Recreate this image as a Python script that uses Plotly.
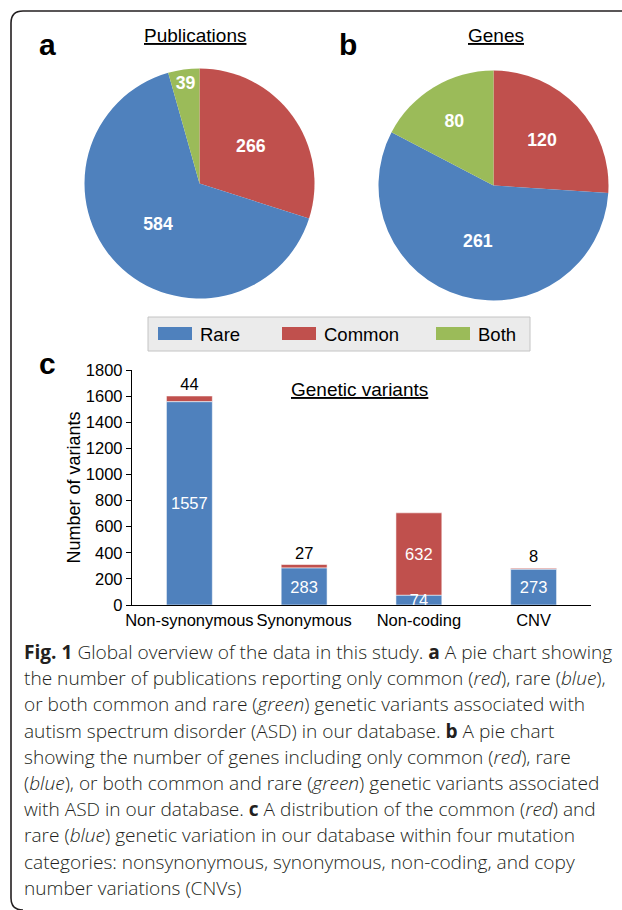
import plotly.graph_objects as go

W, H = 622, 910

# ---------------- data ----------------
pie_labels = ["Common", "Rare", "Both"]
pub_values = [266, 584, 39]
gene_values = [120, 261, 80]

categories = ["Non-synonymous", "Synonymous", "Non-coding", "CNV"]
rare_values = [1557, 283, 74, 273]
common_values = [44, 27, 632, 8]

legend_names = ["Rare", "Common", "Both"]
y_ticks = [0, 200, 400, 600, 800, 1000, 1200, 1400, 1600, 1800]

caption_lines = [
    "<b>Fig. 1</b> Global overview of the data in this study. <b>a</b> A pie chart showing",
    "the number of publications reporting only common (<i>red</i>), rare (<i>blue</i>),",
    "or both common and rare (<i>green</i>) genetic variants associated with",
    "autism spectrum disorder (ASD) in our database. <b>b</b> A pie chart",
    "showing the number of genes including only common (<i>red</i>), rare",
    "(<i>blue</i>), or both common and rare (<i>green</i>) genetic variants associated",
    "with ASD in our database. <b>c</b> A distribution of the common (<i>red</i>) and",
    "rare (<i>blue</i>) genetic variation in our database within four mutation",
    "categories: nonsynonymous, synonymous, non-coding, and copy",
    "number variations (CNVs)",
]

BLUE, RED, GREEN = "#4F81BD", "#C0504D", "#9BBB59"
color_map = {"Rare": BLUE, "Common": RED, "Both": GREEN}
pie_colors = [color_map[l] for l in pie_labels]

ARIAL = "Liberation Sans, Arial, sans-serif"
CAP = "Open Sans, Noto Sans, sans-serif"


def px(x):
    return x / W


def py(y):
    return 1 - y / H


fig = go.Figure()

# ---------------- pies ----------------
for vals, cx, cy in [(pub_values, 199.5, 183.5), (gene_values, 493.5, 185.5)]:
    r = 115
    fig.add_trace(go.Pie(
        labels=pie_labels, values=vals, sort=False, direction="clockwise", rotation=0,
        marker=dict(colors=pie_colors, line=dict(width=0)),
        textinfo="value", textposition="inside", insidetextorientation="horizontal",
        textfont=dict(family=ARIAL, size=19, color="white", weight="bold"),
        domain=dict(x=[px(cx - r), px(cx + r)], y=[py(cy + r), py(cy - r)]),
        showlegend=False, hoverinfo="label+value",
    ))

# ---------------- stacked bars (common drawn first, on top of rare via base) ----------------
edge = dict(color="rgba(255,255,255,0.55)", width=1)
fig.add_trace(go.Bar(
    x=categories, y=common_values, base=rare_values, name="Common",
    marker=dict(color=RED, line=edge),
    text=[str(v) for v in common_values],
    textposition=["inside" if v > 100 else "outside" for v in common_values],
    insidetextanchor="middle", constraintext="none", textangle=0,
    insidetextfont=dict(family=ARIAL, size=16.5, color="white"),
    outsidetextfont=dict(family=ARIAL, size=16.5, color="black"),
    width=0.4, showlegend=False, cliponaxis=False,
))
fig.add_trace(go.Bar(
    x=categories, y=rare_values, name="Rare", marker=dict(color=BLUE, line=edge),
    text=[str(v) for v in rare_values], textposition="inside", insidetextanchor="middle",
    constraintext="none", textangle=0,
    textfont=dict(family=ARIAL, size=16.5, color="white"),
    width=0.4, showlegend=False, cliponaxis=False,
))

fig.update_layout(
    width=W, height=H, autosize=False,
    margin=dict(l=0, r=0, t=0, b=0),
    paper_bgcolor="white", plot_bgcolor="white",
    barmode="overlay", showlegend=False,
    uniformtext=dict(minsize=16.5, mode="show"),
    font=dict(family=ARIAL, color="black"),
    xaxis=dict(domain=[px(132), px(591)], showline=True, linecolor="black", linewidth=1.3,
               ticks="", showgrid=False, zeroline=False, automargin=False, tickangle=0,
               tickfont=dict(family=ARIAL, size=16.5, color="black")),
    yaxis=dict(domain=[py(605), py(370)], range=[0, 1800], tickvals=y_ticks,
               showline=True, linecolor="black", linewidth=1.3, ticks="outside", ticklen=5,
               tickcolor="black", showgrid=False, zeroline=False, automargin=False,
               tickfont=dict(family=ARIAL, size=16.5, color="black"),
               title=dict(text="Number of variants", standoff=0,
                          font=dict(family=ARIAL, size=18, color="black"))),
)

ann = []
shapes = []

# panel letters and titles
for letter, x, y in [("a", 47, 44), ("b", 348, 44), ("c", 47, 363)]:
    ann.append(dict(text=letter, x=px(x), y=py(y), xref="paper", yref="paper", showarrow=False,
                    xanchor="center", yanchor="middle",
                    font=dict(family=ARIAL, size=30, color="black", weight="bold")))
for t, x, y in [("Publications", 195, 36), ("Genes", 496, 36), ("Genetic variants", 359, 389)]:
    ann.append(dict(text=t, x=px(x), y=py(y), xref="paper", yref="paper", showarrow=False,
                    xanchor="center", yanchor="middle",
                    font=dict(family=ARIAL, size=19, color="black", lineposition="under")))

# legend box (manual)
shapes.append(dict(type="rect", xref="paper", yref="paper", x0=px(148), x1=px(530), y0=py(351), y1=py(317),
                   fillcolor="#EBEBEB", line=dict(color="#C4C4C4", width=1)))
for name, x0 in zip(legend_names, [158, 282, 436]):
    shapes.append(dict(type="rect", xref="paper", yref="paper", x0=px(x0), x1=px(x0 + 34), y0=py(340), y1=py(327),
                       fillcolor=color_map[name], line=dict(width=0)))
    ann.append(dict(text=name, x=px(x0 + 40), y=py(334), xref="paper", yref="paper", xanchor="left",
                    yanchor="middle", showarrow=False, font=dict(family=ARIAL, size=18.5, color="black")))

# caption
for i, line in enumerate(caption_lines):
    ann.append(dict(text=line, x=px(22), y=py(652 + 26.2 * i), xref="paper", yref="paper",
                    xanchor="left", yanchor="middle", showarrow=False, align="left",
                    font=dict(family=CAP, size=19.1, color="#231F20", weight=300)))

# outer border with rounded left corners
path = (f"M {px(640)},{py(11)} L {px(23)},{py(11)} Q {px(11)},{py(11)} {px(11)},{py(23)} "
        f"L {px(11)},{py(898)} Q {px(11)},{py(910)} {px(23)},{py(910)}")
shapes.append(dict(type="path", xref="paper", yref="paper", path=path, line=dict(color="#231F20", width=1.6)))

fig.update_layout(annotations=ann, shapes=shapes)
fig.write_html("out.html", config={"displayModeBar": False},
               post_script="document.body.style.margin='0';document.body.style.overflow='hidden';")
